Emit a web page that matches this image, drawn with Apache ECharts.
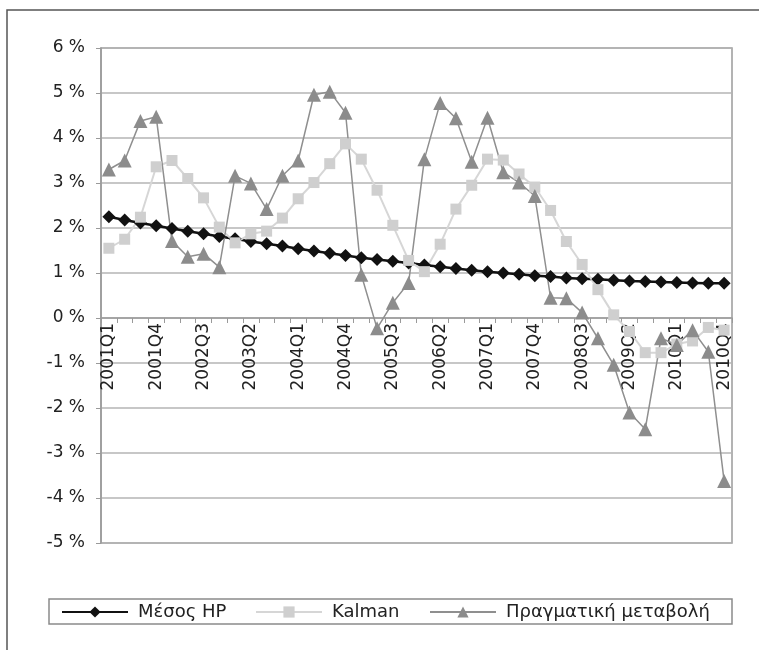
<!DOCTYPE html>
<html>
<head>
<meta charset="utf-8">
<script src="https://cdn.jsdelivr.net/npm/echarts@6/dist/echarts.min.js"></script>
<style>
html,body{margin:0;padding:0;background:#fff;}
#c{width:759px;height:650px;}
</style>
</head>
<body>
<div id="c"></div>
<script>
const categories = [
  '2001Q1','2001Q2','2001Q3','2001Q4','2002Q1','2002Q2','2002Q3','2002Q4',
  '2003Q1','2003Q2','2003Q3','2003Q4','2004Q1','2004Q2','2004Q3','2004Q4',
  '2005Q1','2005Q2','2005Q3','2005Q4','2006Q1','2006Q2','2006Q3','2006Q4',
  '2007Q1','2007Q2','2007Q3','2007Q4','2008Q1','2008Q2','2008Q3','2008Q4',
  '2009Q1','2009Q2','2009Q3','2009Q4','2010Q1','2010Q2','2010Q3','2010Q4'
];
const hpValues = [
  2.25, 2.18, 2.11, 2.05, 1.99, 1.93, 1.87, 1.81, 1.76, 1.70,
  1.65, 1.60, 1.54, 1.49, 1.44, 1.39, 1.34, 1.30, 1.26, 1.22,
  1.18, 1.14, 1.10, 1.06, 1.03, 1.00, 0.97, 0.94, 0.92, 0.89,
  0.87, 0.86, 0.84, 0.82, 0.81, 0.80, 0.79, 0.78, 0.77, 0.77
];
const kalmanValues = [
  1.55, 1.75, 2.24, 3.36, 3.50, 3.10, 2.67, 2.02, 1.67, 1.87,
  1.93, 2.22, 2.65, 3.01, 3.43, 3.87, 3.53, 2.84, 2.06, 1.28,
  1.03, 1.64, 2.42, 2.95, 3.53, 3.51, 3.20, 2.91, 2.39, 1.70,
  1.19, 0.63, 0.07, -0.30, -0.77, -0.77, -0.58, -0.51, -0.21, -0.27
];
const actualValues = [
  3.30, 3.50, 4.38, 4.47, 1.71, 1.36, 1.43, 1.13, 3.16, 2.99,
  2.42, 3.16, 3.50, 4.96, 5.03, 4.56, 0.96, -0.23, 0.34, 0.78,
  3.53, 4.78, 4.44, 3.47, 4.45, 3.24, 3.01, 2.71, 0.45, 0.44,
  0.12, -0.45, -1.04, -2.10, -2.47, -0.45, -0.60, -0.27, -0.75, -3.62
];
const seriesNames = ['Μέσος HP', 'Kalman', 'Πραγματική μεταβολή'];
const yMin = -5, yMax = 6;

const FONT = 'DejaVu Sans';
const GRID_TOP = 48, GRID_BOTTOM = 107, H = 650;
const plotH = H - GRID_TOP - GRID_BOTTOM;
// place the category axis on the zero line
const zeroOffset = -plotH * (0 - yMin) / (yMax - yMin);

const chart = echarts.init(document.getElementById('c'), null, {renderer: 'canvas'});

const legendBase = {
  top: 603,
  itemWidth: 66,
  itemHeight: 14,
  textStyle: {fontFamily: FONT, fontSize: 18, color: '#222', padding: [0, 0, 0, 5]},
  padding: 0
};

chart.setOption({
  backgroundColor: '#ffffff',
  animation: false,
  grid: {left: 101, right: 27, top: GRID_TOP, bottom: GRID_BOTTOM, show: true, borderColor: '#9a9a9a', borderWidth: 1.5, backgroundColor: 'transparent'},
  graphic: [
    {type: 'polyline', shape: {points: [[7, 660], [7, 10], [770, 10]]}, style: {stroke: '#555', lineWidth: 1.5, fill: null}, silent: true},
    {type: 'rect', shape: {x: 49, y: 599, width: 683, height: 25}, style: {stroke: '#8a8a8a', lineWidth: 1.5, fill: null}, silent: true, z: -1}
  ],
  legend: [
    Object.assign({}, legendBase, {data: [seriesNames[0]], left: 61}),
    Object.assign({}, legendBase, {data: [seriesNames[1]], left: 255}),
    Object.assign({}, legendBase, {data: [seriesNames[2]], left: 429})
  ],
  xAxis: {
    type: 'category',
    data: categories,
    boundaryGap: true,
    offset: zeroOffset,
    axisLine: {onZero: false, lineStyle: {color: '#9a9a9a', width: 1.5}},
    axisTick: {show: true, interval: 0, alignWithLabel: false, length: 5, inside: false, lineStyle: {color: '#9a9a9a'}},
    axisLabel: {interval: 2, rotate: 90, margin: 5, fontFamily: FONT, fontSize: 17, color: '#222'},
    splitLine: {show: false}
  },
  yAxis: {
    type: 'value',
    min: yMin, max: yMax, interval: 1,
    axisLine: {show: true, onZero: false, lineStyle: {color: '#9a9a9a', width: 1.5}},
    axisTick: {show: true, length: 5, lineStyle: {color: '#9a9a9a'}},
    axisLabel: {formatter: '{value} %', margin: 16, fontFamily: FONT, fontSize: 17, color: '#222'},
    splitLine: {show: true, lineStyle: {color: '#b4b4b4', width: 1.5}}
  },
  series: [
    {
      name: seriesNames[0], type: 'line', data: hpValues,
      symbol: 'diamond', symbolSize: 13, showAllSymbol: true,
      lineStyle: {color: '#111', width: 2.5},
      itemStyle: {color: '#111'}
    },
    {
      name: seriesNames[1], type: 'line', data: kalmanValues,
      symbol: 'rect', symbolSize: 11, showAllSymbol: true,
      lineStyle: {color: '#d6d6d6', width: 2},
      itemStyle: {color: '#cfcfcf'}
    },
    {
      name: seriesNames[2], type: 'line', data: actualValues,
      symbol: 'triangle', symbolSize: 14, showAllSymbol: true,
      lineStyle: {color: '#8f8f8f', width: 1.5},
      itemStyle: {color: '#8c8c8c'}
    }
  ]
});
</script>
</body>
</html>
